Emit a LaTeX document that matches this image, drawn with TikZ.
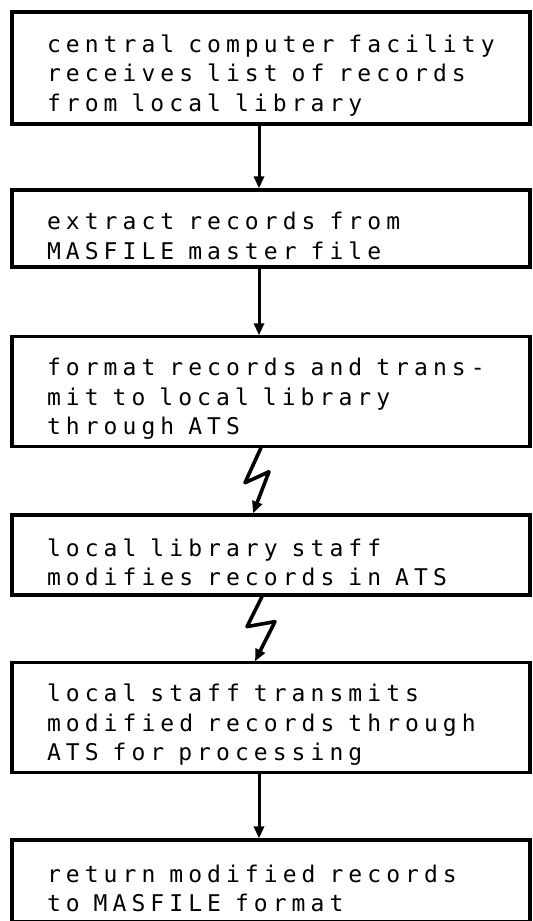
\documentclass[tikz,border=0pt]{standalone}
\usepackage{fontspec}
\newfontfamily\printfont[LetterSpace=22]{DejaVu Sans Mono}
\usepackage{tikz}
\usetikzlibrary{arrows.meta, calc}
\tikzset{%
    stage/.style={%
        draw, rectangle, line width=1.6pt,
        minimum width=259pt, text width=224pt, inner xsep=17.5pt,
        align=left, font=\printfont\fontsize{11.5pt}{14.75pt}\selectfont,
        execute at begin node={\spaceskip 7pt\relax\rule{0pt}{16pt}},
    },
    flow/.style={%
        line width=1.5pt, -{Triangle[length=6pt, width=5pt]}
    },
    bolt/.style={%
        flow, line width=1.8pt, line join=round,
    },
}

\begin{document}
\begin{tikzpicture}[x=0.5pt, y=-0.5pt]
    \useasboundingbox (0,0) rectangle (533,921);

    \node[stage, minimum height=56pt] (receive) at (271,68) {central computer facility\\receives list of records\\from local library};
    \node[stage, minimum height=38.5pt] (extract) at (271,228.5) {extract records from\\MASFILE master file};
    \node[stage, minimum height=53.5pt] (format) at (271,391.5) {format records and trans-\\mit to local library\\through ATS};
    \node[stage, minimum height=40pt] (modify) at (271,555) {local library staff\\modifies records in ATS};
    \node[stage, minimum height=54.5pt] (send) at (271,717.5) {local staff transmits\\modified records through\\ATS for processing};
    \node[stage, minimum height=41pt] (back) at (271,881) {return modified records\\to MASFILE format};

    \draw[flow] ([xshift=-6pt]receive.south) -- ([xshift=-6pt]extract.north);
    \draw[flow] ([xshift=-6pt]extract.south) -- ([xshift=-6pt]format.north);
    % transmission lines
    \draw[bolt] ([xshift=-5pt]format.south) -- ++(-8pt,-17.5pt) -- ++(12pt,5.5pt) -- ([xshift=-9pt]modify.north);
    \draw[bolt] ([xshift=-4.5pt]modify.south) -- ++(-7.5pt,-15pt) -- ++(14pt,2.5pt) -- ([xshift=-8pt]send.north);
    \draw[flow] ([xshift=-6pt]send.south) -- ([xshift=-6pt]back.north);
\end{tikzpicture}
\end{document}
